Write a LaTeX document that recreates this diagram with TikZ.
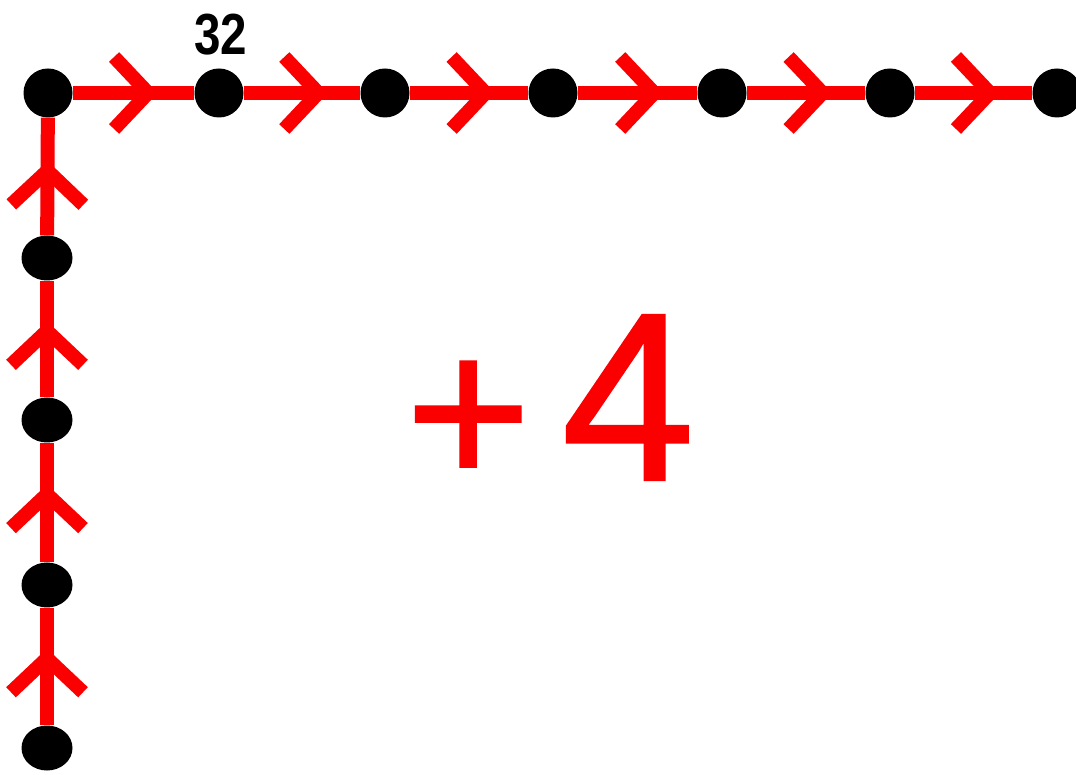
\documentclass[tikz,border=0pt]{standalone}
\usepackage{fontspec}
\setmainfont{Liberation Sans}
\newfontfamily\thickhand[FakeBold=0.9]{Liberation Sans}
\usetikzlibrary{decorations.markings}
\definecolor{pathred}{RGB}{250,0,0}
\tikzset{
  dotnode/.style={circle,fill=black,inner sep=0pt,minimum size=49pt},
  sidedot/.style={ellipse,fill=black,inner sep=0pt,minimum width=51pt,minimum height=45pt},
  chev/.style={postaction={decorate},decoration={markings,
     mark=at position #1 with {\draw[pathred,line width=14pt,line join=miter]
       (-34pt,36pt) -- (0pt,0pt) -- (-34pt,-36pt);}}},
  redline/.style={draw=pathred,line width=14pt},
}
\usetikzlibrary{shapes.geometric}
\begin{document}
\begin{tikzpicture}[x=1pt,y=1pt]
\useasboundingbox (0,0) rectangle (1076,774);
\fill[white] (0,0) rectangle (1076,774);
% top row dots
\node[dotnode] (t0) at (48,681) {};
\node[dotnode] (t1) at (219,681) {};
\node[dotnode] (t2) at (385,681) {};
\node[dotnode] (t3) at (553,681) {};
\node[dotnode] (t4) at (722,681) {};
\node[dotnode] (t5) at (890,681) {};
\node[dotnode] (t6) at (1057,681) {};
% left column dots
\node[sidedot] (l1) at (47,516) {};
\node[sidedot] (l2) at (47,354) {};
\node[sidedot] (l3) at (47,189) {};
\node[sidedot] (l4) at (47,26) {};
% top connectors
\draw[redline,chev=0.62] (t0) -- (t1);
\draw[redline,chev=0.64] (t1) -- (t2);
\draw[redline,chev=0.64] (t2) -- (t3);
\draw[redline,chev=0.64] (t3) -- (t4);
\draw[redline,chev=0.64] (t4) -- (t5);
\draw[redline,chev=0.64] (t5) -- (t6);
% left connectors (upwards)
\draw[redline,chev=0.57] (l4) -- (l3);
\draw[redline,chev=0.57] (l3) -- (l2);
\draw[redline,chev=0.57] (l2) -- (l1);
\draw[redline,chev=0.55] (l1) -- (t0);
% label
\node[anchor=base,inner sep=0pt,xscale=0.82] (lab) at (221,719) {\fontsize{58}{60}\selectfont\bfseries 32};
\node[anchor=base west,inner sep=0pt,text=pathred] (plus4) at (405,294)
  {\fontsize{240}{250}\selectfont\thickhand\raisebox{-6pt}{\scalebox{0.9}{+}}\hspace{30pt}4};
\end{tikzpicture}
\end{document}
